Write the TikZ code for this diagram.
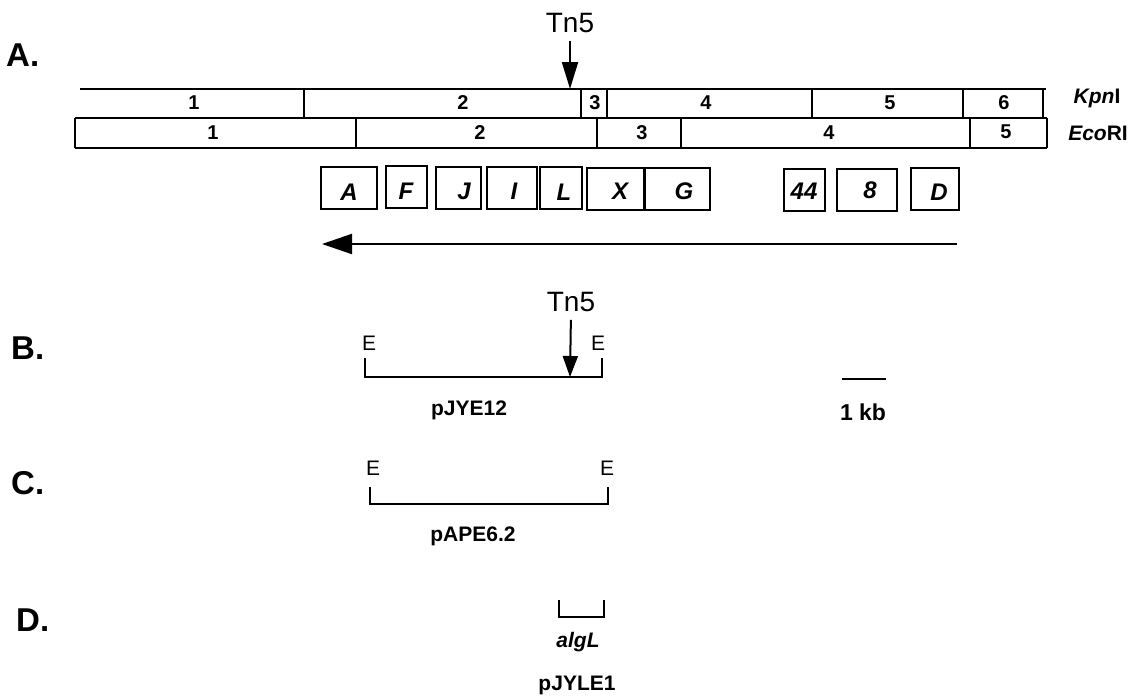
\documentclass[tikz,border=0pt]{standalone}
\usepackage{fontspec}
\setmainfont{Liberation Sans}
\usetikzlibrary{arrows.meta}
\begin{document}
\begin{tikzpicture}[x=1pt,y=-1pt,
  ln/.style={line width=2pt},
  num/.style={font=\fontsize{20}{20}\selectfont\bfseries, inner sep=0pt},
  gbox/.style={draw, line width=2pt, minimum width=#1, minimum height=42pt, inner sep=0pt},
  glab/.style={font=\fontsize{24}{24}\selectfont\bfseries\itshape, inner sep=0pt},
  panel/.style={font=\fontsize{33}{33}\selectfont\bfseries, anchor=west, inner sep=0pt},
  etag/.style={font=\fontsize{21}{21}\selectfont, inner sep=0pt},
  plab/.style={font=\fontsize{21}{21}\selectfont\bfseries, inner sep=0pt},
  enz/.style={font=\fontsize{21}{21}\selectfont\bfseries, inner sep=0pt},
  tn/.style={font=\fontsize{28}{28}\selectfont, inner sep=0pt, outer sep=0pt}
]
\useasboundingbox (0,0) rectangle (1131,697);
\fill[white] (0,0) rectangle (1131,697);

% panel labels
\node[panel] (pA) at (6,55) {A.};
\node[panel] (pB) at (11,348) {B.};
\node[panel] (pC) at (11,483) {C.};
\node[panel] (pD) at (16,620) {D.};

% Tn5 in A
\node[tn] (tnA) at (570,23) {Tn5};
\coordinate (tnAt) at (570,89);
\draw[ln, shorten <=8pt, -{Triangle[length=27pt,width=16pt]}] (tnA.south) -- (tnAt);

% restriction maps
\draw[ln] (80,89) -- (1046,89);
\draw[ln] (75,118) -- (1047,118);
\draw[ln] (75,148) -- (1047,148);
\foreach \x in {304,581,607,812,963,1043} \draw[ln] (\x,89) -- (\x,118);
\foreach \x in {75,356,597,681,970,1047} \draw[ln] (\x,118) -- (\x,148);

\node[num] (k1) at (194,103) {1};
\node[num] (k2) at (463,103) {2};
\node[num] (k3) at (595,103) {3};
\node[num] (k4) at (706,103) {4};
\node[num] (k5) at (890,103) {5};
\node[num] (k6) at (1004,103) {6};
\node[num] (e1) at (213,133) {1};
\node[num] (e2) at (480,133) {2};
\node[num] (e3) at (642,133) {3};
\node[num] (e4) at (829,133) {4};
\node[num] (e5) at (1006,132) {5};

\node[enz] (kpn) at (1097,98) {\textit{Kpn}I};
\node[enz] (eco) at (1098,133) {\textit{Eco}RI};

% gene boxes
\node[gbox=56pt] (bA) at (349,188) {};
\node[gbox=41pt] (bF) at (406.5,187) {};
\node[gbox=45pt] (bJ) at (458.5,188) {};
\node[gbox=50pt] (bI) at (512,188) {};
\node[gbox=42pt] (bL) at (561,188) {};
\node[gbox=57pt] (bX) at (615.5,189) {};
\node[gbox=65pt] (bG) at (677.5,189) {};
\node[gbox=41pt] (b44) at (804.5,190) {};
\node[gbox=60pt] (b8) at (867,190) {};
\node[gbox=48pt] (bD) at (935,189) {};
\node[glab] (lA) at (349,192) {A};
\node[glab] (lF) at (406,191) {F};
\node[glab] (lJ) at (464,191) {J};
\node[glab] (lI) at (514,191) {I};
\node[glab] (lL) at (564,192) {L};
\node[glab] (lX) at (620,191) {X};
\node[glab] (lG) at (684,191) {G};
\node[glab] (l44) at (804,191) {44};
\node[glab] (l8) at (870,190) {8};
\node[glab] (lD) at (939,192) {D};

% operon arrow
\coordinate (arS) at (957,244);
\coordinate (arE) at (322,244);
\draw[ln, -{Triangle[length=30pt,width=20pt]}] (arS) -- (arE);

% B
\node[tn] (tnB) at (571,302) {Tn5};
\coordinate (tnBt) at (570,377);
\draw[ln, shorten <=8pt, -{Triangle[length=21pt,width=15pt]}] (tnB.south) -- (tnBt);
\node[etag] (eB1) at (369,343) {E};
\node[etag] (eB2) at (598,343) {E};
\coordinate (bBa) at (365,358);
\coordinate (bBb) at (365,377);
\coordinate (bBc) at (602,377);
\coordinate (bBd) at (602,358);
\draw[ln] (bBa) -- (bBb) -- (bBc) -- (bBd);
\node[plab] (pJYE) at (469,410) {pJYE12};

% scale bar
\coordinate (sb1) at (842,379);
\coordinate (sb2) at (886,379);
\draw[ln] (sb1) -- (sb2);
\node[plab, font=\fontsize{23}{23}\selectfont\bfseries] (kb) at (863,412) {1 kb};

% C
\node[etag] (eC1) at (373,468) {E};
\node[etag] (eC2) at (607,468) {E};
\coordinate (bCa) at (370,487);
\coordinate (bCb) at (370,504);
\coordinate (bCc) at (608,504);
\coordinate (bCd) at (608,487);
\draw[ln] (bCa) -- (bCb) -- (bCc) -- (bCd);
\node[plab] (pAPE) at (473,536) {pAPE6.2};

% D
\coordinate (bDa) at (559,600);
\coordinate (bDb) at (559,617);
\coordinate (bDc) at (604,617);
\coordinate (bDd) at (604,600);
\draw[ln] (bDa) -- (bDb) -- (bDc) -- (bDd);
\node[plab, font=\fontsize{21}{21}\selectfont\bfseries\itshape] (alg) at (578,642) {algL};
\node[plab] (pJYLE) at (577,685) {pJYLE1};
\end{tikzpicture}
\end{document}
